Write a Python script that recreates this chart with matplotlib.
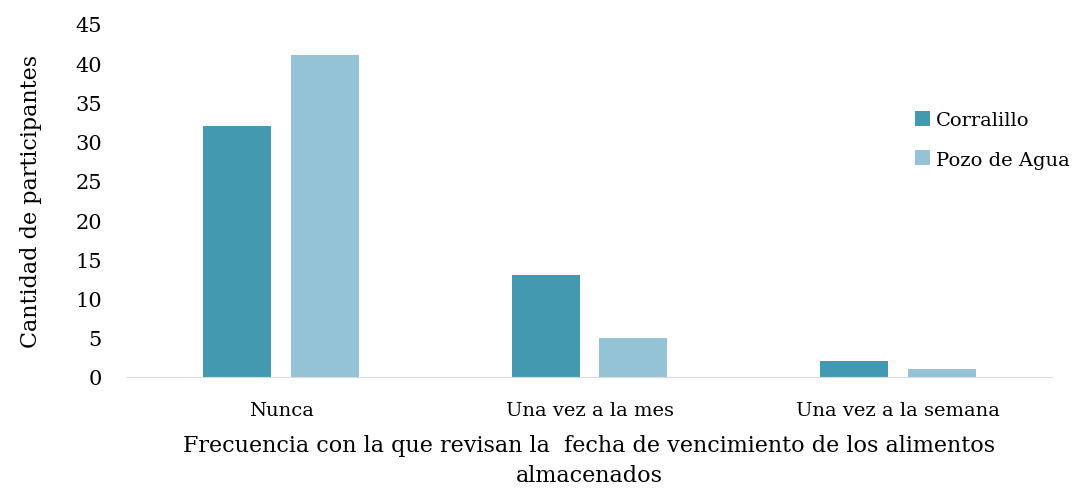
import numpy as np
import matplotlib
matplotlib.use("Agg")
import matplotlib.pyplot as plt

categories = ["Nunca", "Una vez a la mes", "Una vez a la semana"]
corralillo = [32, 13, 2]
pozo_de_agua = [41, 5, 1]

COLOR_CORRALILLO = "#4399B0"
COLOR_POZO = "#93C3D5"

plt.rcParams.update({
    "font.family": ["DejaVu Serif"],
    "font.size": 14,
})

fig = plt.figure(figsize=(10.72, 4.89), dpi=100)
ax = fig.add_axes([127 / 1072, 1 - 378 / 489, (1052 - 127) / 1072, (378 - 25) / 489])

x = np.arange(len(categories))
w = 0.22
off = 0.142
ax.bar(x - off, corralillo, w, color=COLOR_CORRALILLO, label="Corralillo")
ax.bar(x + off, pozo_de_agua, w, color=COLOR_POZO, label="Pozo de Agua")

ax.set_xlim(-0.5, len(categories) - 0.5)
ax.set_ylim(0, 45)
ax.set_yticks(range(0, 46, 5))
ax.set_xticks(x)
ax.set_xticklabels(categories)

for s in ["top", "right", "left"]:
    ax.spines[s].set_visible(False)
ax.spines["bottom"].set_color("#D9D9D9")
ax.tick_params(axis="both", length=0, labelsize=14, colors="#000000")
ax.tick_params(axis="y", labelsize=15, pad=18)
ax.tick_params(axis="x", pad=17)

ax.set_ylabel("Cantidad de participantes", fontsize=16, labelpad=24)
ax.set_xlabel("Frecuencia con la que revisan la  fecha de vencimiento de los alimentos\nalmacenados",
              fontsize=16, labelpad=11, linespacing=1.45)

fig.legend(loc="upper left", bbox_to_anchor=(905 / 1072, 1 - 102 / 489), frameon=False,
           fontsize=14, handlelength=0.8, handleheight=0.8, handletextpad=0.3,
           labelspacing=1.1, borderpad=0)

fig.savefig("out.png", dpi=100)
